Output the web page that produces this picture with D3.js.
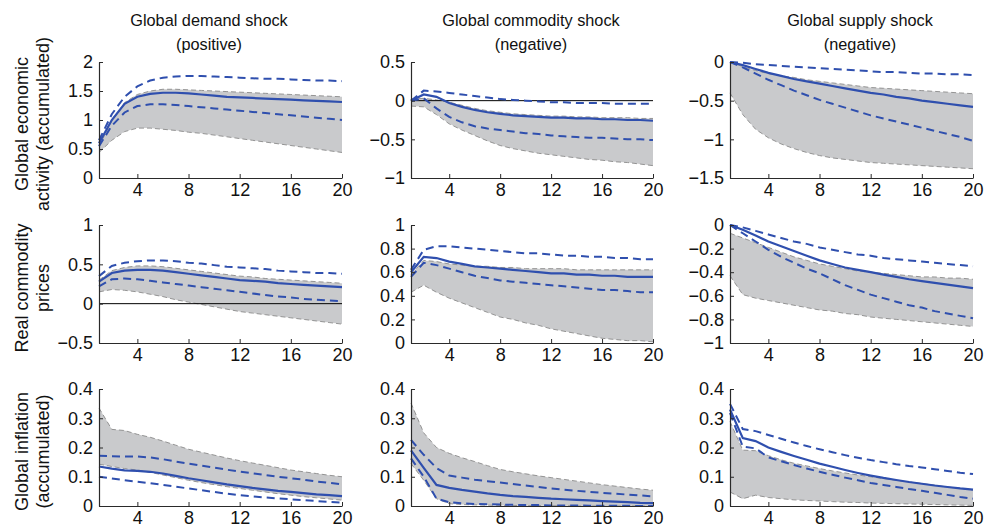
<!DOCTYPE html>
<html><head><meta charset="utf-8">
<script src="https://cdn.jsdelivr.net/npm/d3@7"></script>
<style>
html,body{margin:0;padding:0;background:#fff;}
svg{display:block;font-family:"Liberation Sans",Arial,Helvetica,sans-serif;}
</style></head>
<body>
<svg id="chart" width="987" height="527"></svg>
<script>
// ---------------- DATA ----------------
const horizons = d3.range(1, 21); // 1..20
const xTicks = [4, 8, 12, 16, 20];

const colTitles = ["Global demand shock", "Global commodity shock", "Global supply shock"];
const colSubtitles = ["(positive)", "(negative)", "(negative)"];
const rowLabels = [["Global economic", "activity (accumulated)"], ["Real commodity", "prices"], ["Global inflation", "(accumulated)"]];

// y domains & ticks per panel (row-major)
const yDomains = [[0, 2], [-1, 0.5], [-1.5, 0], [-0.5, 1], [0, 1], [-1, 0], [0, 0.4], [0, 0.4], [0, 0.4]];
const yTicks = [[0, 0.5, 1, 1.5, 2], [-1, -0.5, 0, 0.5], [-1.5, -1, -0.5, 0],
  [-0.5, 0, 0.5, 1], [0, 0.2, 0.4, 0.6, 0.8, 1], [-1, -0.8, -0.6, -0.4, -0.2, 0],
  [0, 0.1, 0.2, 0.3, 0.4], [0, 0.1, 0.2, 0.3, 0.4], [0, 0.1, 0.2, 0.3, 0.4]];
const zeroLine = [false, true, false, true, false, false, false, false, false];

// Row 1: global economic activity
const act_dem_mid = [0.6, 1.0, 1.28, 1.4, 1.45, 1.47, 1.47, 1.46, 1.44, 1.42, 1.4, 1.39, 1.38, 1.37, 1.36, 1.35, 1.34, 1.33, 1.32, 1.31];
const act_dem_hi = [0.65, 1.1, 1.4, 1.58, 1.68, 1.73, 1.75, 1.76, 1.76, 1.75, 1.74, 1.73, 1.72, 1.71, 1.71, 1.7, 1.69, 1.68, 1.68, 1.67];
const act_dem_lo = [0.55, 0.9, 1.13, 1.24, 1.27, 1.27, 1.26, 1.24, 1.22, 1.2, 1.18, 1.16, 1.14, 1.12, 1.1, 1.08, 1.06, 1.04, 1.02, 1.0];
const act_dem_bandHi = [0.55, 0.98, 1.3, 1.44, 1.5, 1.53, 1.53, 1.52, 1.51, 1.5, 1.49, 1.48, 1.47, 1.46, 1.45, 1.44, 1.43, 1.42, 1.41, 1.4];
const act_dem_bandLo = [0.44, 0.65, 0.8, 0.86, 0.86, 0.84, 0.82, 0.79, 0.77, 0.74, 0.71, 0.68, 0.65, 0.62, 0.59, 0.56, 0.53, 0.5, 0.47, 0.44];

const act_com_mid = [0, 0.08, 0.05, -0.03, -0.08, -0.12, -0.15, -0.17, -0.19, -0.2, -0.21, -0.22, -0.22, -0.23, -0.23, -0.24, -0.24, -0.25, -0.25, -0.26];
const act_com_hi = [0, 0.13, 0.12, 0.1, 0.08, 0.06, 0.04, 0.02, 0.01, 0, -0.01, -0.02, -0.02, -0.03, -0.03, -0.03, -0.04, -0.04, -0.04, -0.04];
const act_com_lo = [0, 0.03, -0.1, -0.21, -0.28, -0.33, -0.36, -0.38, -0.4, -0.42, -0.43, -0.45, -0.46, -0.47, -0.48, -0.48, -0.49, -0.5, -0.5, -0.51];
const act_com_bandHi = [0.02, 0.03, 0.01, -0.02, -0.06, -0.1, -0.13, -0.15, -0.17, -0.18, -0.19, -0.2, -0.2, -0.21, -0.21, -0.22, -0.22, -0.22, -0.23, -0.23];
const act_com_bandLo = [-0.07, -0.08, -0.18, -0.3, -0.38, -0.45, -0.52, -0.58, -0.62, -0.65, -0.68, -0.7, -0.72, -0.74, -0.76, -0.77, -0.79, -0.8, -0.82, -0.84];

const act_sup_mid = [0, -0.04, -0.09, -0.14, -0.18, -0.22, -0.25, -0.28, -0.31, -0.34, -0.37, -0.4, -0.42, -0.45, -0.47, -0.5, -0.52, -0.54, -0.56, -0.58];
const act_sup_hi = [0, -0.01, -0.03, -0.04, -0.05, -0.06, -0.07, -0.08, -0.09, -0.1, -0.11, -0.12, -0.13, -0.13, -0.14, -0.15, -0.15, -0.16, -0.16, -0.17];
const act_sup_lo = [0, -0.07, -0.15, -0.23, -0.3, -0.37, -0.43, -0.49, -0.54, -0.59, -0.64, -0.69, -0.73, -0.77, -0.81, -0.85, -0.89, -0.93, -0.97, -1.02];
const act_sup_bandHi = [0, -0.06, -0.11, -0.15, -0.18, -0.2, -0.23, -0.25, -0.27, -0.29, -0.31, -0.33, -0.34, -0.35, -0.36, -0.37, -0.38, -0.39, -0.4, -0.41];
const act_sup_bandLo = [-0.4, -0.68, -0.87, -0.98, -1.06, -1.12, -1.17, -1.21, -1.24, -1.26, -1.28, -1.3, -1.31, -1.32, -1.33, -1.34, -1.35, -1.36, -1.37, -1.38];

// Row 2: real commodity prices
const com_dem_mid = [0.28, 0.39, 0.42, 0.43, 0.43, 0.42, 0.4, 0.38, 0.36, 0.34, 0.32, 0.3, 0.29, 0.28, 0.26, 0.25, 0.24, 0.23, 0.22, 0.21];
const com_dem_hi = [0.35, 0.48, 0.52, 0.54, 0.55, 0.55, 0.54, 0.52, 0.51, 0.49, 0.47, 0.46, 0.45, 0.44, 0.42, 0.41, 0.4, 0.39, 0.39, 0.38];
const com_dem_lo = [0.22, 0.31, 0.32, 0.31, 0.29, 0.27, 0.25, 0.23, 0.21, 0.19, 0.17, 0.15, 0.13, 0.11, 0.09, 0.08, 0.06, 0.05, 0.04, 0.03];
const com_dem_bandHi = [0.3, 0.42, 0.46, 0.48, 0.48, 0.47, 0.45, 0.43, 0.41, 0.39, 0.37, 0.35, 0.34, 0.32, 0.31, 0.3, 0.29, 0.28, 0.27, 0.26];
const com_dem_bandLo = [0.15, 0.18, 0.17, 0.15, 0.12, 0.09, 0.05, 0.02, -0.01, -0.04, -0.07, -0.1, -0.12, -0.14, -0.16, -0.18, -0.2, -0.22, -0.24, -0.26];

const com_com_mid = [0.6, 0.73, 0.72, 0.69, 0.67, 0.65, 0.64, 0.63, 0.62, 0.61, 0.6, 0.59, 0.59, 0.58, 0.58, 0.57, 0.57, 0.56, 0.56, 0.56];
const com_com_hi = [0.62, 0.79, 0.82, 0.82, 0.81, 0.8, 0.79, 0.78, 0.77, 0.76, 0.76, 0.75, 0.74, 0.74, 0.73, 0.73, 0.72, 0.72, 0.71, 0.71];
const com_com_lo = [0.56, 0.68, 0.66, 0.63, 0.6, 0.57, 0.55, 0.53, 0.52, 0.51, 0.5, 0.49, 0.48, 0.47, 0.46, 0.45, 0.45, 0.44, 0.43, 0.43];
const com_com_bandHi = [0.58, 0.7, 0.69, 0.67, 0.66, 0.65, 0.65, 0.64, 0.64, 0.63, 0.63, 0.63, 0.63, 0.62, 0.62, 0.62, 0.62, 0.62, 0.62, 0.62];
const com_com_bandLo = [0.43, 0.49, 0.43, 0.38, 0.34, 0.3, 0.26, 0.22, 0.2, 0.17, 0.15, 0.12, 0.1, 0.08, 0.06, 0.04, 0.03, 0.02, 0.02, 0.01];

const com_sup_mid = [0, -0.04, -0.09, -0.14, -0.18, -0.22, -0.26, -0.3, -0.33, -0.36, -0.38, -0.4, -0.42, -0.44, -0.46, -0.475, -0.49, -0.505, -0.52, -0.535];
const com_sup_hi = [0, -0.02, -0.05, -0.08, -0.11, -0.14, -0.16, -0.19, -0.21, -0.23, -0.25, -0.26, -0.28, -0.29, -0.3, -0.31, -0.32, -0.33, -0.34, -0.35];
const com_sup_lo = [0, -0.07, -0.14, -0.21, -0.27, -0.32, -0.37, -0.41, -0.46, -0.51, -0.55, -0.59, -0.62, -0.65, -0.68, -0.7, -0.73, -0.75, -0.77, -0.79];
const com_sup_bandHi = [-0.07, -0.11, -0.15, -0.19, -0.23, -0.27, -0.3, -0.33, -0.35, -0.37, -0.39, -0.4, -0.41, -0.42, -0.43, -0.44, -0.44, -0.45, -0.45, -0.46];
const com_sup_bandLo = [-0.43, -0.59, -0.62, -0.64, -0.66, -0.68, -0.7, -0.72, -0.73, -0.75, -0.76, -0.78, -0.79, -0.8, -0.81, -0.82, -0.83, -0.84, -0.85, -0.86];

// Row 3: global inflation
const inf_dem_mid = [0.135, 0.128, 0.122, 0.12, 0.117, 0.111, 0.103, 0.095, 0.088, 0.081, 0.074, 0.068, 0.062, 0.057, 0.052, 0.048, 0.044, 0.04, 0.037, 0.034];
const inf_dem_hi = [0.172, 0.17, 0.169, 0.169, 0.166, 0.16, 0.152, 0.145, 0.138, 0.131, 0.124, 0.118, 0.112, 0.106, 0.1, 0.095, 0.09, 0.084, 0.079, 0.074];
const inf_dem_lo = [0.1, 0.094, 0.088, 0.083, 0.078, 0.072, 0.066, 0.06, 0.054, 0.048, 0.042, 0.037, 0.033, 0.029, 0.026, 0.023, 0.02, 0.017, 0.014, 0.012];
const inf_dem_bandHi = [0.335, 0.262, 0.258, 0.245, 0.235, 0.222, 0.208, 0.194, 0.184, 0.174, 0.164, 0.155, 0.147, 0.139, 0.131, 0.123, 0.117, 0.111, 0.105, 0.1];
const inf_dem_bandLo = [0.143, 0.135, 0.128, 0.123, 0.115, 0.106, 0.097, 0.088, 0.08, 0.073, 0.066, 0.06, 0.054, 0.048, 0.042, 0.037, 0.032, 0.028, 0.024, 0.02];

const inf_com_mid = [0.19, 0.13, 0.072, 0.062, 0.055, 0.049, 0.043, 0.038, 0.034, 0.031, 0.028, 0.025, 0.023, 0.021, 0.019, 0.017, 0.015, 0.013, 0.011, 0.01];
const inf_com_hi = [0.226, 0.175, 0.13, 0.104, 0.097, 0.09, 0.085, 0.08, 0.075, 0.07, 0.065, 0.06, 0.056, 0.052, 0.048, 0.045, 0.042, 0.039, 0.036, 0.033];
const inf_com_lo = [0.163, 0.1, 0.025, 0.013, 0.009, 0.007, 0.006, 0.005, 0.004, 0.003, 0.003, 0.002, 0.002, 0.002, 0.001, 0.001, 0.001, 0.001, 0, 0];
const inf_com_bandHi = [0.352, 0.25, 0.2, 0.18, 0.165, 0.152, 0.138, 0.125, 0.117, 0.11, 0.103, 0.097, 0.091, 0.085, 0.079, 0.073, 0.068, 0.063, 0.058, 0.054];
const inf_com_bandLo = [0.145, 0.088, 0.025, 0.008, 0.005, 0.004, 0.003, 0.002, 0.002, 0.001, 0.001, 0.001, 0.001, 0, 0, 0, 0, 0, 0, 0];

const inf_sup_mid = [0.33, 0.232, 0.222, 0.2, 0.185, 0.171, 0.158, 0.145, 0.134, 0.123, 0.113, 0.104, 0.096, 0.089, 0.082, 0.076, 0.07, 0.065, 0.06, 0.056];
const inf_sup_hi = [0.349, 0.263, 0.256, 0.243, 0.23, 0.217, 0.205, 0.194, 0.184, 0.174, 0.165, 0.157, 0.15, 0.143, 0.137, 0.132, 0.126, 0.12, 0.114, 0.109];
const inf_sup_lo = [0.318, 0.203, 0.197, 0.166, 0.153, 0.14, 0.128, 0.117, 0.107, 0.097, 0.088, 0.079, 0.072, 0.065, 0.058, 0.052, 0.045, 0.038, 0.031, 0.025];
const inf_sup_bandHi = [0.289, 0.191, 0.189, 0.172, 0.158, 0.146, 0.137, 0.128, 0.12, 0.113, 0.106, 0.1, 0.094, 0.088, 0.082, 0.077, 0.071, 0.065, 0.06, 0.054];
const inf_sup_bandLo = [0.048, 0.025, 0.037, 0.029, 0.025, 0.021, 0.019, 0.017, 0.015, 0.013, 0.012, 0.01, 0.009, 0.008, 0.007, 0.006, 0.005, 0.004, 0.003, 0.002];

const panels = [
  [act_dem_mid, act_dem_hi, act_dem_lo, act_dem_bandHi, act_dem_bandLo],
  [act_com_mid, act_com_hi, act_com_lo, act_com_bandHi, act_com_bandLo],
  [act_sup_mid, act_sup_hi, act_sup_lo, act_sup_bandHi, act_sup_bandLo],
  [com_dem_mid, com_dem_hi, com_dem_lo, com_dem_bandHi, com_dem_bandLo],
  [com_com_mid, com_com_hi, com_com_lo, com_com_bandHi, com_com_bandLo],
  [com_sup_mid, com_sup_hi, com_sup_lo, com_sup_bandHi, com_sup_bandLo],
  [inf_dem_mid, inf_dem_hi, inf_dem_lo, inf_dem_bandHi, inf_dem_bandLo],
  [inf_com_mid, inf_com_hi, inf_com_lo, inf_com_bandHi, inf_com_bandLo],
  [inf_sup_mid, inf_sup_hi, inf_sup_lo, inf_sup_bandHi, inf_sup_bandLo]
];

// ---------------- LAYOUT ----------------
const colX = [[99, 342], [411, 653], [730, 973]];
const rowY = [[62, 178], [225, 343], [389, 506]];
const titleX = [209, 531, 860];
const BLUE = "#2f4fae", BAND = "#c9cacc", BANDEDGE = "#8a8a8a", AXIS = "#2a2a2a";

const svg = d3.select("#chart");
const fmt = d3.format("~g");

// column titles
colTitles.forEach((t, c) => {
  svg.append("text").attr("x", titleX[c]).attr("y", 26).attr("text-anchor", "middle")
    .attr("font-size", 16.3).attr("fill", "#111").text(t);
  svg.append("text").attr("x", titleX[c]).attr("y", 50).attr("text-anchor", "middle")
    .attr("font-size", 16.3).attr("fill", "#111").text(colSubtitles[c]);
});

// row labels
rowLabels.forEach((lines, r) => {
  const cy = (rowY[r][0] + rowY[r][1]) / 2 + 4;
  lines.forEach((l, i) => {
    const cx = 22 + i * 21;
    svg.append("text").attr("transform", `translate(${cx},${cy}) rotate(-90)`)
      .attr("text-anchor", "middle").attr("dy", "0.35em")
      .attr("font-size", 18).attr("fill", "#111").text(l);
  });
});

panels.forEach((series, i) => {
  const r = Math.floor(i / 3), c = i % 3;
  const x = d3.scaleLinear().domain([1, 20]).range(colX[c]);
  const y = d3.scaleLinear().domain(yDomains[i]).range([rowY[r][1], rowY[r][0]]);
  const g = svg.append("g");
  const [mid, hi, lo, bHi, bLo] = series;
  const pts = arr => horizons.map((h, k) => [h, arr[k]]);

  const area = d3.area().x((d, k) => x(horizons[k])).y0((d, k) => y(bLo[k])).y1((d, k) => y(bHi[k]));
  g.append("path").attr("d", area(horizons)).attr("fill", BAND).attr("stroke", "none");
  const line = d3.line().x(d => x(d[0])).y(d => y(d[1]));
  [bHi, bLo].forEach(a => g.append("path").attr("d", line(pts(a))).attr("fill", "none")
    .attr("stroke", BANDEDGE).attr("stroke-width", 0.9).attr("stroke-dasharray", "5,3"));

  if (zeroLine[i]) {
    g.append("line").attr("x1", x(1)).attr("x2", x(20)).attr("y1", y(0)).attr("y2", y(0))
      .attr("stroke", "#000").attr("stroke-width", 1);
  }
  [hi, lo].forEach(a => g.append("path").attr("d", line(pts(a))).attr("fill", "none")
    .attr("stroke", BLUE).attr("stroke-width", 2).attr("stroke-dasharray", "8,5"));
  g.append("path").attr("d", line(pts(mid))).attr("fill", "none")
    .attr("stroke", BLUE).attr("stroke-width", 2.2);

  const ya = g.append("g").attr("transform", `translate(${colX[c][0]},0)`)
    .call(d3.axisLeft(y).tickValues(yTicks[i]).tickFormat(fmt).tickSizeInner(-4).tickSizeOuter(0).tickPadding(6));
  const xa = g.append("g").attr("transform", `translate(0,${rowY[r][1]})`)
    .call(d3.axisBottom(x).tickValues(xTicks).tickFormat(fmt).tickSizeInner(-4).tickSizeOuter(0).tickPadding(5));
  [ya, xa].forEach(a => {
    a.select(".domain").attr("stroke", AXIS).attr("stroke-width", 1.2);
    a.selectAll(".tick line").attr("stroke", AXIS);
    a.selectAll("text").attr("font-size", 18).attr("fill", "#111")
      .attr("font-family", "'Liberation Sans', Arial, sans-serif");
  });
});
</script>
</body></html>
